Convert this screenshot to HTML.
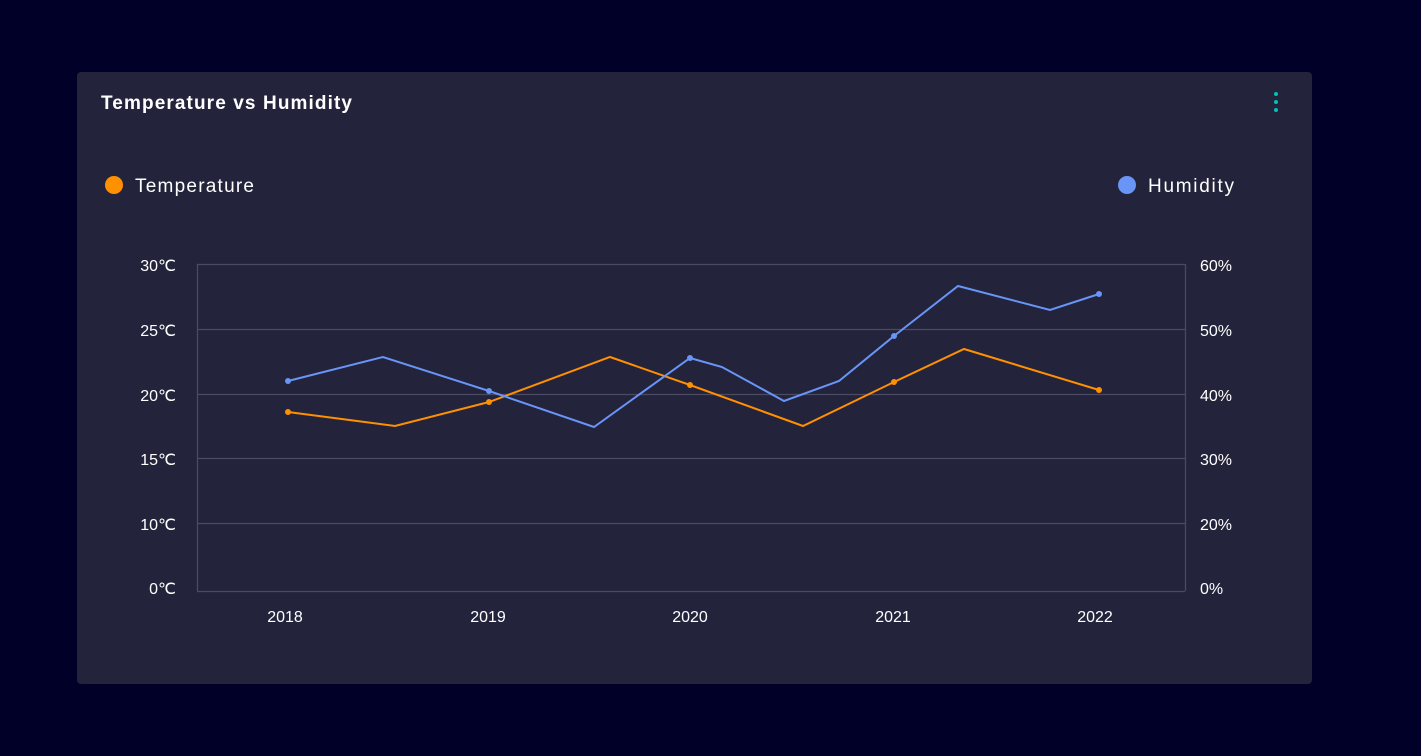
<!DOCTYPE html>
<html><head><style>
body{margin:0;width:1421px;height:756px;background:#000028;overflow:hidden;font-family:"Liberation Sans",sans-serif}
</style></head><body>
<svg width="1421" height="756" xmlns="http://www.w3.org/2000/svg" style="position:absolute;left:0;top:0">
<rect x="77" y="72" width="1235" height="612" rx="4" fill="#23233c"/>
<text x="101" y="109" fill="#fff" font-size="19" font-weight="bold" font-family="Liberation Sans" textLength="251">Temperature vs Humidity</text>
<circle cx="1276" cy="94" r="2" fill="#00c1b6"/><circle cx="1276" cy="102" r="2" fill="#00c1b6"/><circle cx="1276" cy="110" r="2" fill="#00c1b6"/>
<circle cx="114" cy="185" r="9" fill="#ff9000"/>
<text x="135" y="192" fill="#fff" font-size="19" font-family="Liberation Sans" textLength="119">Temperature</text>
<circle cx="1127" cy="185" r="9" fill="#6895f6"/>
<text x="1148" y="192" fill="#fff" font-size="19" font-family="Liberation Sans" textLength="86">Humidity</text>
<g stroke="#4a4a62" stroke-width="1.3" fill="none">
<line x1="197" y1="264.5" x2="1185" y2="264.5"/>
<line x1="197" y1="329.5" x2="1185" y2="329.5"/>
<line x1="197" y1="394.5" x2="1185" y2="394.5"/>
<line x1="197" y1="458.5" x2="1185" y2="458.5"/>
<line x1="197" y1="523.5" x2="1185" y2="523.5"/>
<line x1="197" y1="591.5" x2="1185" y2="591.5"/>
<line x1="197.5" y1="264" x2="197.5" y2="591"/>
<line x1="1185.5" y1="264" x2="1185.5" y2="591"/>
</g>
<g fill="#fff" font-size="16" font-family="Liberation Sans" text-anchor="end">
<text x="176" y="271">30℃</text><text x="176" y="336">25℃</text><text x="176" y="401">20℃</text>
<text x="176" y="465">15℃</text><text x="176" y="530">10℃</text><text x="176" y="594">0℃</text>
</g>
<g fill="#fff" font-size="16" font-family="Liberation Sans" text-anchor="start">
<text x="1200" y="271">60%</text><text x="1200" y="336">50%</text><text x="1200" y="401">40%</text>
<text x="1200" y="465">30%</text><text x="1200" y="530">20%</text><text x="1200" y="594">0%</text>
</g>
<g fill="#fff" font-size="16" font-family="Liberation Sans" text-anchor="middle">
<text x="285" y="622">2018</text><text x="488" y="622">2019</text><text x="690" y="622">2020</text><text x="893" y="622">2021</text><text x="1095" y="622">2022</text>
</g>
<polyline fill="none" stroke="#ff9000" stroke-width="2" points="288,412 395,426 489,402 610,357 690,385 803,426 894,382 964,349 1099,390"/>
<polyline fill="none" stroke="#6895f6" stroke-width="2" points="288,381 383,357 489,391 594,427 690,358 722,367 784,401 839,381 894,336 958,286 1050,310 1099,294"/>
<g fill="#ff9000"><circle cx="288" cy="412" r="3"/><circle cx="489" cy="402" r="3"/><circle cx="690" cy="385" r="3"/><circle cx="894" cy="382" r="3"/><circle cx="1099" cy="390" r="3"/></g>
<g fill="#6895f6"><circle cx="288" cy="381" r="3"/><circle cx="489" cy="391" r="3"/><circle cx="690" cy="358" r="3"/><circle cx="894" cy="336" r="3"/><circle cx="1099" cy="294" r="3"/></g>
</svg>
</body></html>
